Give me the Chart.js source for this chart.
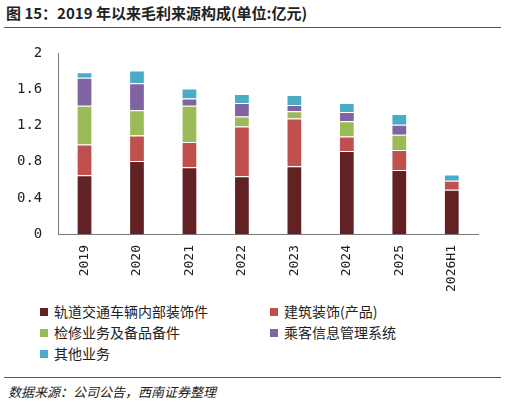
<!DOCTYPE html>
<html><head><meta charset="utf-8">
<script src="https://cdn.jsdelivr.net/npm/chart.js@4/dist/chart.umd.min.js"></script>
<style>
body{margin:0;width:507px;height:408px;background:#fff;font-family:"Noto Sans CJK SC",sans-serif;position:relative;overflow:hidden}
#title{position:absolute;left:6px;top:2px;font-size:15px;font-weight:bold;color:#222}
.hr{position:absolute;left:4px;width:497px;height:1px;background:#a33}
#wrap{position:absolute;left:0;top:37px;width:500px;height:258px}
#legend{position:absolute;left:40px;top:301px;width:460px;font-size:14px;color:#222}
.li{position:absolute;white-space:nowrap}
.sw{display:inline-block;width:8px;height:8px;margin-right:6px;vertical-align:1px}
#src{position:absolute;left:8px;top:382px;font-size:13px;font-style:italic;color:#222}
</style></head><body>
<div id="title">图 15：2019 年以来毛利来源构成(单位:亿元)</div>
<div class="hr" style="top:27px"></div>
<div id="wrap"><canvas id="c"></canvas></div>
<div id="legend"></div>
<div class="hr" style="top:377px"></div>
<div id="src">数据来源：公司公告，西南证券整理</div>
<script>
const categories = ['2019','2020','2021','2022','2023','2024','2025','2026H1'];
const seriesNames = ['轨道交通车辆内部装饰件','建筑装饰(产品)','检修业务及备品备件','乘客信息管理系统','其他业务'];
const rail = [0.65,0.81,0.74,0.64,0.75,0.92,0.71,0.49];
const building = [0.34,0.28,0.28,0.55,0.53,0.16,0.22,0.10];
const repair = [0.43,0.28,0.40,0.11,0.08,0.17,0.17,0];
const pis = [0.31,0.30,0.08,0.15,0.07,0.10,0.11,0];
const other = [0.06,0.14,0.11,0.10,0.11,0.10,0.12,0.07];
const yTicks = [0,0.4,0.8,1.2,1.6,2];
const colors = ['#622224','#C0504D','#9BBB59','#8064A2','#4BACC6'];
const values = [rail, building, repair, pis, other];

new Chart(document.getElementById('c'), {
  type: 'bar',
  data: {
    labels: categories,
    datasets: values.map((v, i) => ({
      label: seriesNames[i], data: v, backgroundColor: colors[i],
      borderColor: '#fff', borderWidth: 1, barPercentage: 0.3, categoryPercentage: 1
    }))
  },
  options: {
    responsive: true, maintainAspectRatio: false, animation: false,
    layout: { padding: { left: 9, right: 22, top: 12 } },
    plugins: { legend: { display: false }, tooltip: { enabled: false } },
    scales: {
      x: { stacked: true, grid: { display: false, drawTicks: true },
           border: { color: '#777' },
           ticks: { minRotation: 90, maxRotation: 90, color: '#222', font: { size: 13, family: 'DejaVu Sans Mono' } } },
      y: { stacked: true, min: 0, max: 2, afterBuildTicks: a => { a.ticks = yTicks.map(v => ({ value: v })); },
           grid: { display: false }, border: { color: '#777' },
           ticks: { color: '#222', padding: 8, font: { size: 14, family: 'DejaVu Sans Mono' }, callback: v => String(v) } }
    }
  }
});

const pos = [[0,0],[230,0],[0,21],[230,21],[0,42]];
const lg = document.getElementById('legend');
seriesNames.forEach((n, i) => {
  const d = document.createElement('div');
  d.className = 'li';
  d.style.left = pos[i][0] + 'px'; d.style.top = pos[i][1] + 'px';
  d.innerHTML = '<span class="sw" style="background:' + colors[i] + '"></span>' + n;
  lg.appendChild(d);
});
</script>
</body></html>
